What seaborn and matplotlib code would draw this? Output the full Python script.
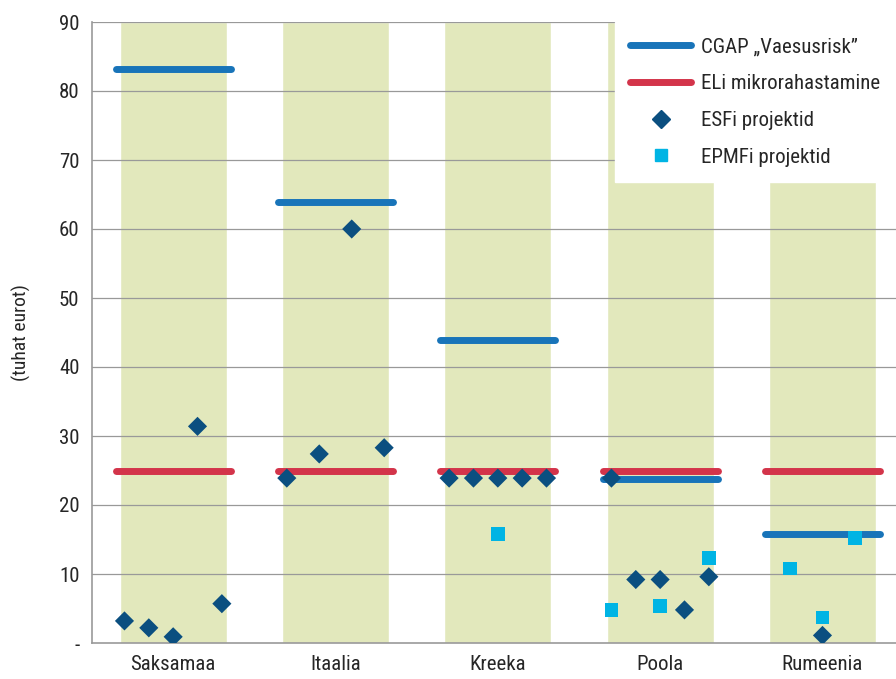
import numpy as np
import pandas as pd
import matplotlib
matplotlib.use("Agg")
import matplotlib.pyplot as plt
from matplotlib.lines import Line2D
import seaborn as sns

categories = ["Saksamaa", "Itaalia", "Kreeka", "Poola", "Rumeenia"]
cgap = [83.2, 63.9, 43.9, 23.8, 15.8]
eli = [24.9, 24.9, 24.9, 24.9, 24.9]

# project values per country, one slot per project (None = empty slot)
esf = [
    [3.2, 2.2, 0.9, 31.4, 5.7],
    [23.9, 27.4, 60.0, 28.3],
    [23.9, 23.9, 23.9, 23.9, 23.9],
    [23.9, 9.2, 9.2, 4.8, 9.6],
    [None, 1.1, None],
]
epmf = [
    [None, None, None, None, None],
    [None, None, None, None],
    [None, None, 15.8, None, None],
    [4.8, None, 5.4, None, 12.3],
    [10.8, 3.7, 15.2],
]

yticks = [0, 10, 20, 30, 40, 50, 60, 70, 80, 90]
ytick_labels = ["-", "10", "20", "30", "40", "50", "60", "70", "80", "90"]

c_band = "#e2e8bc"
c_cgap = "#1874b9"
c_eli = "#d3344a"
c_esf = "#0b4f80"
c_epmf = "#00b4e4"

sns.set_style("white")
plt.rcParams["font.family"] = ["Liberation Sans Narrow", "Roboto Condensed", "Roboto", "DejaVu Sans"]


def build_points(groups, series):
    rows = []
    for ci, vals in enumerate(groups):
        n = len(vals)
        step = min(0.6 / (n - 1), 0.2)
        offs = (np.arange(n) - (n - 1) / 2) * step
        for off, v in zip(offs, vals):
            if v is not None:
                rows.append({"x": ci + off, "y": v, "series": series})
    return pd.DataFrame(rows)


esf_df = build_points(esf, "ESFi projektid")
epmf_df = build_points(epmf, "EPMFi projektid")

fig = plt.figure(figsize=(8.96, 6.79), dpi=100)
ax = fig.add_axes([92 / 896, 36 / 679, 1 - 92 / 896, 621 / 679])

xpos = np.arange(len(categories))
ax.bar(xpos, 90, width=0.66, color=c_band, zorder=0)

for y in yticks[1:]:
    ax.axhline(y, color="#999999", lw=0.9, zorder=1)

ax.hlines(cgap, xpos - 0.355, xpos + 0.355, color=c_cgap, lw=5, capstyle="round", zorder=2)
ax.hlines(eli, xpos - 0.355, xpos + 0.355, color=c_eli, lw=5, capstyle="round", zorder=2)

sns.scatterplot(data=esf_df, x="x", y="y", marker="D", s=95, color=c_esf,
                edgecolor="none", ax=ax, zorder=3, legend=False)
sns.scatterplot(data=epmf_df, x="x", y="y", marker="s", s=95, color=c_epmf,
                edgecolor="none", ax=ax, zorder=3, legend=False)

ax.set_xlim(-0.5, (896 - 173.5) / 162.25)
ax.set_ylim(0, 90)
ax.set_xticks(xpos)
ax.set_xticklabels(categories, fontsize=15)
ax.set_yticks(yticks)
ax.set_yticklabels(ytick_labels, fontsize=15)
ax.set_xlabel("")
ax.set_ylabel("(tuhat eurot)", fontsize=14, labelpad=20)
ax.tick_params(axis="both", length=0, pad=9)

for side in ["top", "right"]:
    ax.spines[side].set_visible(False)
for side in ["left", "bottom"]:
    ax.spines[side].set_color("#999999")
    ax.spines[side].set_linewidth(1.2)

handles = [
    Line2D([], [], color=c_cgap, lw=5, solid_capstyle="round"),
    Line2D([], [], color=c_eli, lw=5, solid_capstyle="round"),
    Line2D([], [], color=c_esf, marker="D", ls="none", markersize=9.5),
    Line2D([], [], color=c_epmf, marker="s", ls="none", markersize=8.5),
]
labels = ["CGAP \u201eVaesusrisk\u201d", "ELi mikrorahastamine", "ESFi projektid", "EPMFi projektid"]
leg = ax.legend(handles, labels, loc="upper right", bbox_to_anchor=(1.0, 1.0),
                fontsize=15, frameon=True, facecolor="white", edgecolor="white",
                framealpha=1, fancybox=False, handlelength=2.9, labelspacing=0.85,
                borderpad=0.75, borderaxespad=0, handletextpad=0.5)
leg.set_zorder(5)

fig.savefig("out.png", dpi=100)
